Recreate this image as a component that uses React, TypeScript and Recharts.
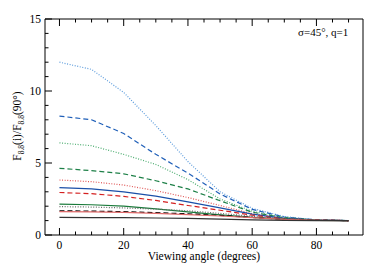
import React from "react";
import { LineChart, Line, XAxis, YAxis, Label } from "recharts";

const angles = [0, 10, 20, 30, 40, 50, 60, 70, 80, 90];
const s1 = [12.0, 11.5, 9.9, 7.6, 5.1, 3.0, 1.85, 1.28, 1.05, 1.0];
const s2 = [8.26, 8.0, 7.05, 5.6, 4.3, 2.85, 1.78, 1.25, 1.05, 1.0];
const s3 = [6.4, 6.2, 5.6, 4.9, 3.85, 2.5, 1.65, 1.2, 1.04, 1.0];
const s4 = [4.63, 4.47, 4.25, 3.77, 3.2, 2.38, 1.58, 1.2, 1.04, 1.0];
const s5 = [3.82, 3.7, 3.47, 3.08, 2.6, 2.05, 1.48, 1.15, 1.03, 1.0];
const s6 = [3.29, 3.2, 3.0, 2.7, 2.3, 1.88, 1.45, 1.15, 1.03, 1.0];
const s7 = [2.95, 2.87, 2.68, 2.4, 2.05, 1.72, 1.38, 1.12, 1.03, 1.0];
const s8 = [2.15, 2.1, 2.0, 1.82, 1.6, 1.4, 1.22, 1.1, 1.02, 1.0];
const s9 = [1.97, 1.94, 1.88, 1.8, 1.68, 1.5, 1.3, 1.12, 1.03, 1.0];
const s10 = [1.68, 1.66, 1.62, 1.55, 1.47, 1.36, 1.22, 1.08, 1.02, 1.0];
const s11 = [1.63, 1.61, 1.57, 1.5, 1.42, 1.32, 1.2, 1.08, 1.02, 1.0];
const s12 = [1.22, 1.21, 1.2, 1.18, 1.15, 1.1, 1.05, 1.02, 1.0, 1.0];

const xTicks = [0, 5, 10, 15, 20, 25, 30, 35, 40, 45, 50, 55, 60, 65, 70, 75, 80, 85, 90];
const xLabels = [0, 20, 40, 60, 80];
const yTicks = [0, 1, 2, 3, 4, 5, 6, 7, 8, 9, 10, 11, 12, 13, 14, 15];
const yLabels = [0, 5, 10, 15];
const xTitle = "Viewing angle (degrees)";
const annotation = "σ=45°, q=1";

const series = [
  { key: "s1", vals: s1, color: "#5b9bdc", dash: "1 1.6" },
  { key: "s2", vals: s2, color: "#1f5fb8", dash: "5 3" },
  { key: "s3", vals: s3, color: "#4fae72", dash: "1 1.6" },
  { key: "s4", vals: s4, color: "#1e8048", dash: "5 3" },
  { key: "s5", vals: s5, color: "#e05a5a", dash: "1 1.6" },
  { key: "s6", vals: s6, color: "#1a4fa8", dash: undefined },
  { key: "s7", vals: s7, color: "#d42020", dash: "5 3" },
  { key: "s8", vals: s8, color: "#1a7a3a", dash: undefined },
  { key: "s9", vals: s9, color: "#666666", dash: "1 1.6" },
  { key: "s10", vals: s10, color: "#000000", dash: "5 3" },
  { key: "s11", vals: s11, color: "#e06a6a", dash: undefined },
  { key: "s12", vals: s12, color: "#333333", dash: undefined },
];

const data = angles.map((a, i) => {
  const row: Record<string, number> = { angle: a };
  series.forEach((s) => (row[s.key] = s.vals[i]));
  return row;
});

const tstyle = { fontFamily: "'Liberation Serif', 'Times New Roman', 'DejaVu Serif', serif" };
const MAJ = 7;
const MIN = 3.5;

const BottomTick = (props: any) => {
  const { x, y, payload } = props;
  const major = xLabels.includes(payload.value);
  return (
    <g>
      <line x1={x} x2={x} y1={y} y2={y - (major ? MAJ : MIN)} stroke="#000" strokeWidth={1} />
      {major && (
        <text x={x} y={y + 14} textAnchor="middle" style={tstyle} fontSize={11.5} fill="#000">
          {payload.value}
        </text>
      )}
    </g>
  );
};
const TopTick = (props: any) => {
  const { x, y, payload } = props;
  const major = xLabels.includes(payload.value);
  return <line x1={x} x2={x} y1={y} y2={y + (major ? MAJ : MIN)} stroke="#000" strokeWidth={1} />;
};
const LeftTick = (props: any) => {
  const { x, y, payload } = props;
  const major = yLabels.includes(payload.value);
  return (
    <g>
      <line x1={x} x2={x + (major ? MAJ : MIN)} y1={y} y2={y} stroke="#000" strokeWidth={1} />
      {major && (
        <text x={x - 4} y={y + 4} textAnchor="end" style={tstyle} fontSize={11.5} fill="#000">
          {payload.value}
        </text>
      )}
    </g>
  );
};
const RightTick = (props: any) => {
  const { x, y, payload } = props;
  const major = yLabels.includes(payload.value);
  return <line x1={x} x2={x - (major ? MAJ : MIN)} y1={y} y2={y} stroke="#000" strokeWidth={1} />;
};

const XTitle = () => (
  <text x={204} y={260} textAnchor="middle" style={tstyle} fontSize={11.5} fill="#000">
    {xTitle}
  </text>
);
const YTitle = () => (
  <text transform="translate(21,126) rotate(-90)" textAnchor="middle" style={tstyle} fontSize={11.5} fill="#000">
    F<tspan fontSize={7.5} dy={3}>8.8</tspan>
    <tspan dy={-3}>(i)/F</tspan>
    <tspan fontSize={7.5} dy={3}>8.8</tspan>
    <tspan dy={-3}>(90°)</tspan>
  </text>
);
const Annot = () => (
  <text x={298} y={36} style={tstyle} fontSize={11} fill="#000">
    {annotation}
  </text>
);

export default function App() {
  return (
    <div style={{ position: "absolute", left: 0, top: 0, width: 374, height: 270, background: "#fff" }}>
      <LineChart width={374} height={270} data={data} margin={{ top: 18, right: 10, left: 0, bottom: 0 }}>
        <XAxis
          dataKey="angle"
          type="number"
          domain={[-4.5, 94.5]}
          ticks={xTicks}
          tick={<BottomTick />}
          tickLine={false}
          tickSize={0}
          tickMargin={0}
          height={35}
          axisLine={{ stroke: "#000", strokeWidth: 1 }}
          interval={0}
        >
          <Label content={<XTitle />} />
        </XAxis>
        <XAxis
          xAxisId="top"
          orientation="top"
          dataKey="angle"
          type="number"
          domain={[-4.5, 94.5]}
          ticks={xTicks}
          tick={<TopTick />}
          tickLine={false}
          tickSize={0}
          tickMargin={0}
          height={1}
          axisLine={{ stroke: "#000", strokeWidth: 1 }}
          interval={0}
        >
          <Label content={<Annot />} />
        </XAxis>
        <YAxis
          type="number"
          domain={[0, 15]}
          ticks={yTicks}
          tick={<LeftTick />}
          tickLine={false}
          tickSize={0}
          tickMargin={0}
          width={45}
          axisLine={{ stroke: "#000", strokeWidth: 1 }}
          interval={0}
        >
          <Label content={<YTitle />} />
        </YAxis>
        <YAxis
          yAxisId="right"
          orientation="right"
          type="number"
          domain={[0, 15]}
          ticks={yTicks}
          tick={<RightTick />}
          tickLine={false}
          tickSize={0}
          tickMargin={0}
          width={1}
          axisLine={{ stroke: "#000", strokeWidth: 1 }}
          interval={0}
        />
        {series.map((s) => (
          <Line
            key={s.key}
            dataKey={s.key}
            type="linear"
            stroke={s.color}
            strokeWidth={1.2}
            strokeDasharray={s.dash}
            dot={false}
            activeDot={false}
            isAnimationActive={false}
          />
        ))}
      </LineChart>
    </div>
  );
}
